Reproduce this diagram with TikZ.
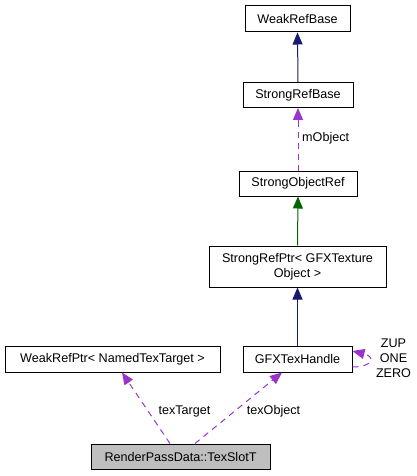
\documentclass[tikz,border=0pt]{standalone}
\usepackage{fontspec}
\setmainfont{Liberation Sans}
\usetikzlibrary{arrows.meta}
\definecolor{navyedge}{HTML}{191970}
\definecolor{greenedge}{HTML}{006400}
\definecolor{orchidedge}{HTML}{9A32CD}
\definecolor{greyfill}{HTML}{BFBFBF}
\begin{document}
\begin{tikzpicture}[x=1pt,y=-1pt,
  every node/.style={font=\fontsize{12.6}{14.5}\selectfont},
  cls/.style={draw=black,line width=1pt,fill=white,inner sep=0pt,align=center},
  lbl/.style={inner sep=0pt,align=center},
  tip/.style={-{Triangle[length=12pt,width=10pt]}},
  inh/.style={tip,draw=navyedge,line width=1pt},
  inhg/.style={tip,draw=greenedge,line width=1pt},
  dep/.style={tip,draw=orchidedge,line width=1pt,dash pattern=on 6pt off 5pt}]
\useasboundingbox (0,0) rectangle (417,476);
\node[cls,minimum width=105pt,minimum height=26pt] (wrb) at (297.5,19) {WeakRefBase};
\node[cls,minimum width=110pt,minimum height=25pt] (srb) at (298,95) {StrongRefBase};
\node[cls,minimum width=118pt,minimum height=25pt] (sor) at (298,183.5) {StrongObjectRef};
\node[cls,minimum width=177pt,minimum height=41pt] (srp) at (297.5,266.5) {StrongRefPtr< GFXTexture\\Object >};
\node[cls,minimum width=109pt,minimum height=26pt] (gh) at (297.5,359) {GFXTexHandle};
\node[cls,minimum width=215pt,minimum height=26pt] (wp) at (112.5,359) {WeakRefPtr< NamedTexTarget >};
\node[cls,fill=greyfill,minimum width=179pt,minimum height=25pt] (ts) at (180.5,456.5) {RenderPassData::TexSlotT};

\draw[inh] (srb.north) -- (wrb.south);
\draw[dep] (sor.north) -- (srb.south);
\draw[inhg] (srp.north) -- (sor.south);
\draw[inh] (gh.north) -- (srp.south);
\draw[dep] ([yshift=-8pt]gh.east) .. controls +(20,0) and +(24,6) .. ([yshift=8pt]gh.east);
\draw[dep] ([xshift=-10.5pt]ts.north) -- ([xshift=9.5pt]wp.south);
\draw[dep] ([xshift=14.5pt]ts.north) -- ([xshift=-15.5pt]gh.south);

\node[lbl,anchor=west] (lm) at (302,138) {mObject};
\node[lbl] (lt) at (184.5,411) {texTarget};
\node[lbl] (lo) at (273.5,411) {texObject};
\node[lbl,font=\fontsize{12.6}{15}\selectfont] (lz) at (393.5,358) {ZUP\\ONE\\ZERO};
\end{tikzpicture}
\end{document}
